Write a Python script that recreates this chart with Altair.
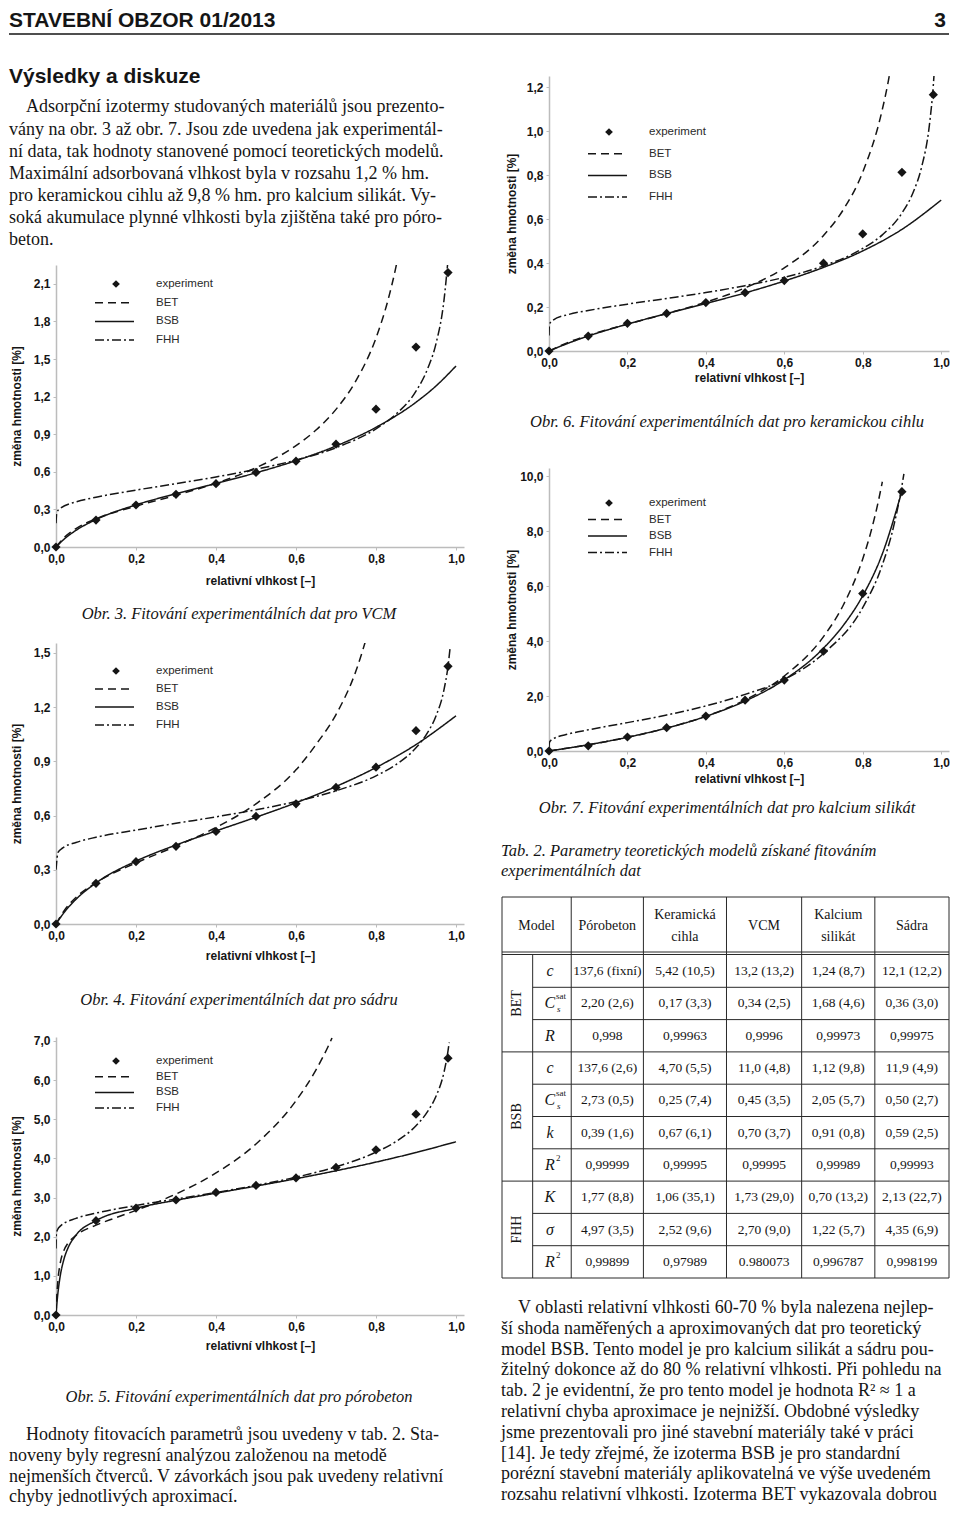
import altair as alt
import pandas as pd

# ---------------------------------------------------------------- data
# relative humidity of the measured points
RH_EXP = [0.0, 0.1, 0.2, 0.3, 0.4, 0.5, 0.6, 0.7, 0.8, 0.9, 0.98]
RH_EXP_KS = [0.0, 0.1, 0.2, 0.3, 0.4, 0.5, 0.6, 0.7, 0.8, 0.9]

# Obr. 3 - VCM
VCM_EXP = [0.0, 0.215, 0.335, 0.42, 0.505, 0.595, 0.685, 0.82, 1.10, 1.595, 2.19]
VCM_BET_X = [0.0, 0.02, 0.05, 0.1, 0.2, 0.3, 0.4, 0.5, 0.6, 0.65, 0.7, 0.75, 0.8, 0.83, 0.85, 0.86]
VCM_BET_Y = [0.0, 0.074, 0.147, 0.225, 0.326, 0.413, 0.509, 0.632, 0.809, 0.933, 1.098, 1.327, 1.668, 1.970, 2.237, 2.399]
VCM_BSB_X = [0.0, 0.02, 0.05, 0.1, 0.2, 0.3, 0.4, 0.5, 0.6, 0.7, 0.8, 0.9, 0.95, 1.0]
VCM_BSB_Y = [0.0, 0.062, 0.133, 0.219, 0.336, 0.425, 0.507, 0.592, 0.689, 0.806, 0.955, 1.155, 1.285, 1.444]
VCM_FHH_X = [0.0, 0.002, 0.01, 0.05, 0.1, 0.2, 0.3, 0.4, 0.5, 0.6, 0.7, 0.8, 0.85, 0.9, 0.93, 0.95, 0.97, 0.98]
VCM_FHH_Y = [0.19, 0.275, 0.307, 0.360, 0.397, 0.454, 0.505, 0.559, 0.620, 0.694, 0.792, 0.943, 1.060, 1.243, 1.430, 1.623, 1.970, 2.290]

# Obr. 4 - sadra
SAD_EXP = [0.0, 0.225, 0.345, 0.43, 0.512, 0.595, 0.665, 0.756, 0.868, 1.07, 1.426]
SAD_BET_X = [0.0, 0.02, 0.05, 0.1, 0.2, 0.3, 0.4, 0.5, 0.6, 0.65, 0.7, 0.75, 0.78]
SAD_BET_Y = [0.0, 0.073, 0.147, 0.229, 0.338, 0.431, 0.534, 0.665, 0.853, 0.993, 1.159, 1.401, 1.612]
SAD_BSB_X = [0.0, 0.02, 0.05, 0.1, 0.2, 0.3, 0.4, 0.5, 0.6, 0.7, 0.8, 0.9, 1.0]
SAD_BSB_Y = [0.0, 0.063, 0.137, 0.227, 0.348, 0.437, 0.515, 0.591, 0.671, 0.761, 0.866, 0.993, 1.152]
SAD_FHH_X = [0.0, 0.005, 0.017, 0.05, 0.1, 0.2, 0.3, 0.4, 0.5, 0.6, 0.7, 0.8, 0.85, 0.9, 0.93, 0.95, 0.97, 0.98, 0.985]
SAD_FHH_Y = [0.30, 0.396, 0.421, 0.451, 0.480, 0.520, 0.557, 0.593, 0.632, 0.678, 0.737, 0.820, 0.882, 0.975, 1.063, 1.151, 1.297, 1.426, 1.523]

# Obr. 5 - porobeton
POR_EXP = [0.0, 2.41, 2.73, 2.94, 3.13, 3.31, 3.50, 3.77, 4.22, 5.13, 6.56]
POR_BET_X = [0.0, 0.001, 0.005, 0.01, 0.02, 0.03, 0.05, 0.1, 0.15, 0.2, 0.3, 0.4, 0.5, 0.6, 0.65, 0.68, 0.69]
POR_BET_Y = [0.0, 0.267, 0.904, 1.292, 1.655, 1.836, 2.035, 2.294, 2.486, 2.672, 3.09, 3.627, 4.368, 5.473, 6.261, 6.852, 7.074]
POR_BSB_X = [0.0, 0.002, 0.005, 0.01, 0.02, 0.03, 0.05, 0.1, 0.2, 0.3, 0.4, 0.5, 0.6, 0.7, 0.8, 0.9, 1.0]
POR_BSB_Y = [0.0, 0.265, 0.58, 0.96, 1.43, 1.712, 2.039, 2.409, 2.727, 2.931, 3.112, 3.293, 3.481, 3.684, 3.905, 4.151, 4.425]
POR_FHH_X = [0.0, 0.001, 0.005, 0.01, 0.05, 0.1, 0.2, 0.3, 0.4, 0.5, 0.6, 0.7, 0.8, 0.85, 0.9, 0.93, 0.95, 0.97, 0.98, 0.983]
POR_FHH_Y = [1.70, 2.085, 2.201, 2.263, 2.467, 2.602, 2.796, 2.963, 3.13, 3.311, 3.52, 3.784, 4.159, 4.431, 4.832, 5.211, 5.586, 6.201, 6.743, 6.96]

# Obr. 6 - keramicka cihla
CIH_EXP = [0.0, 0.068, 0.126, 0.171, 0.22, 0.265, 0.32, 0.399, 0.532, 0.812, 1.165]
CIH_BET_X = [0.0, 0.05, 0.1, 0.2, 0.3, 0.4, 0.5, 0.6, 0.7, 0.75, 0.8, 0.85, 0.865, 0.87]
CIH_BET_Y = [0.0, 0.040, 0.071, 0.122, 0.170, 0.222, 0.287, 0.378, 0.525, 0.641, 0.813, 1.098, 1.224, 1.273]
CIH_BSB_X = [0.0, 0.05, 0.1, 0.2, 0.3, 0.4, 0.5, 0.6, 0.7, 0.8, 0.9, 1.0]
CIH_BSB_Y = [0.0, 0.036, 0.068, 0.122, 0.170, 0.216, 0.264, 0.318, 0.380, 0.455, 0.553, 0.686]
CIH_FHH_X = [0.0, 0.001, 0.005, 0.01, 0.05, 0.1, 0.2, 0.3, 0.4, 0.5, 0.6, 0.7, 0.8, 0.85, 0.9, 0.93, 0.95, 0.97, 0.98, 0.982]
CIH_FHH_Y = [0.07, 0.119, 0.133, 0.140, 0.166, 0.184, 0.213, 0.239, 0.266, 0.297, 0.335, 0.387, 0.466, 0.528, 0.627, 0.727, 0.835, 1.027, 1.208, 1.26]

# Obr. 7 - kalcium silikat
KS_EXP = [0.0, 0.19, 0.51, 0.85, 1.27, 1.85, 2.58, 3.63, 5.73, 9.44]
KS_BET_X = [0.0, 0.1, 0.2, 0.3, 0.4, 0.5, 0.6, 0.7, 0.75, 0.8, 0.82, 0.84, 0.85]
KS_BET_Y = [0.0, 0.226, 0.497, 0.833, 1.267, 1.86, 2.731, 4.162, 5.296, 6.99, 7.93, 9.10, 9.80]
KS_BSB_X = [0.0, 0.1, 0.2, 0.3, 0.4, 0.5, 0.6, 0.7, 0.75, 0.8, 0.85, 0.9]
KS_BSB_Y = [0.0, 0.227, 0.50, 0.835, 1.259, 1.818, 2.592, 3.743, 4.562, 5.651, 7.175, 9.46]
KS_FHH_X = [0.0, 0.001, 0.005, 0.01, 0.05, 0.1, 0.2, 0.3, 0.4, 0.5, 0.6, 0.7, 0.8, 0.85, 0.88, 0.9, 0.905]
KS_FHH_Y = [0.10, 0.313, 0.389, 0.436, 0.621, 0.770, 1.033, 1.31, 1.639, 2.06, 2.6, 3.551, 5.219, 6.774, 8.246, 9.656, 10.09]

X_TICKS = [0.0, 0.2, 0.4, 0.6, 0.8, 1.0]
Y_TICKS_VCM = [0.0, 0.3, 0.6, 0.9, 1.2, 1.5, 1.8, 2.1]
Y_TICKS_SAD = [0.0, 0.3, 0.6, 0.9, 1.2, 1.5]
Y_TICKS_POR = [0.0, 1.0, 2.0, 3.0, 4.0, 5.0, 6.0, 7.0]
Y_TICKS_CIH = [0.0, 0.2, 0.4, 0.6, 0.8, 1.0, 1.2]
Y_TICKS_KS = [0.0, 2.0, 4.0, 6.0, 8.0, 10.0]

MODELS = ["BET", "BSB", "FHH"]
LEGEND_NAMES = ["experiment", "BET", "BSB", "FHH"]
X_TITLE = "relativní vlhkost [–]"
Y_TITLE = "změna hmotnosti [%]"

# table 2
TAB_HEAD = ["Pórobeton", "Keramická\ncihla", "VCM", "Kalcium\nsilikát", "Sádra"]
GROUPS = ["BET", "BSB", "FHH"]
GROUP_ROWS = [3, 4, 3]
PARAM_MAIN = ["c", "C", "R", "c", "C", "k", "R", "K", "σ", "R"]
PARAM_SUP = ["", "sat", "", "", "sat", "", "2", "", "", "2"]
PARAM_SUB = ["", "s", "", "", "s", "", "", "", "", ""]
TAB_POROBETON = ["137,6 (fixní)", "2,20 (2,6)", "0,998", "137,6 (2,6)", "2,73 (0,5)", "0,39 (1,6)", "0,99999", "1,77 (8,8)", "4,97 (3,5)", "0,99899"]
TAB_CIHLA = ["5,42 (10,5)", "0,17 (3,3)", "0,99963", "4,70 (5,5)", "0,25 (7,4)", "0,67 (6,1)", "0,99995", "1,06 (35,1)", "2,52 (9,6)", "0,97989"]
TAB_VCM = ["13,2 (13,2)", "0,34 (2,5)", "0,9996", "11,0 (4,8)", "0,45 (3,5)", "0,70 (3,7)", "0,99995", "1,73 (29,0)", "2,70 (9,0)", "0.980073"]
TAB_KS = ["1,24 (8,7)", "1,68 (4,6)", "0,99973", "1,12 (9,8)", "2,05 (5,7)", "0,91 (0,8)", "0,99989", "0,70 (13,2)", "1,22 (5,7)", "0,996787"]
TAB_SADRA = ["12,1 (12,2)", "0,36 (3,0)", "0,99975", "11,9 (4,9)", "0,50 (2,7)", "0,59 (2,5)", "0,99993", "2,13 (22,7)", "4,35 (6,9)", "0,998199"]

# texts
HEADER_LEFT = "STAVEBNÍ OBZOR 01/2013"
HEADER_RIGHT = "3"
SECTION = "Výsledky a diskuze"
PARA_TOP = [
    "Adsorpční izotermy studovaných materiálů jsou prezento-",
    "vány na obr. 3 až obr. 7. Jsou zde uvedena jak experimentál-",
    "ní data, tak hodnoty stanovené pomocí teoretických modelů.",
    "Maximální adsorbovaná vlhkost byla v rozsahu 1,2 % hm.",
    "pro keramickou cihlu až 9,8 % hm. pro kalcium silikát. Vy-",
    "soká akumulace plynné vlhkosti byla zjištěna také pro póro-",
    "beton.",
]
PARA_LEFT_BOTTOM = [
    "Hodnoty fitovacích parametrů jsou uvedeny v tab. 2. Sta-",
    "noveny byly regresní analýzou založenou na metodě",
    "nejmenších čtverců. V závorkách jsou pak uvedeny relativní",
    "chyby jednotlivých aproximací.",
]
PARA_RIGHT_BOTTOM = [
    "V oblasti relativní vlhkosti 60-70 % byla nalezena nejlep-",
    "ší shoda naměřených a aproximovaných dat pro teoretický",
    "model BSB. Tento model je pro kalcium silikát a sádru pou-",
    "žitelný dokonce až do 80 % relativní vlhkosti. Při pohledu na",
    "tab. 2 je evidentní, že pro tento model je hodnota R² ≈ 1 a",
    "relativní chyba aproximace je nejnižší. Obdobné výsledky",
    "jsme prezentovali pro jiné stavební materiály také v práci",
    "[14]. Je tedy zřejmé, že izoterma BSB je pro standardní",
    "porézní stavební materiály aplikovatelná ve výše uvedeném",
    "rozsahu relativní vlhkosti. Izoterma BET vykazovala dobrou",
]
CAP3 = "Obr. 3. Fitování experimentálních dat pro VCM"
CAP4 = "Obr. 4. Fitování experimentálních dat pro sádru"
CAP5 = "Obr. 5. Fitování experimentálních dat pro pórobeton"
CAP6 = "Obr. 6. Fitování experimentálních dat pro keramickou cihlu"
CAP7 = "Obr. 7. Fitování experimentálních dat pro kalcium silikát"
CAPT = ["Tab. 2. Parametry teoretických modelů získané fitováním", "experimentálních dat"]

# ---------------------------------------------------------------- style
SANS = "Liberation Sans"
SERIF = "Liberation Serif"
INK = "#151515"
DASHES = [[8, 5], [1, 0], [9, 3, 2, 3]]
LABEL_EXPR = "replace(format(datum.value, '.1f'), '.', ',')"
BODY_SIZE = 18
CAP_SIZE = 16.5

ONE = pd.DataFrame({"k": [0]})


def txt(text, x, y, **kw):
    opts = dict(align="left", baseline="alphabetic", color=INK, font=SERIF, fontSize=BODY_SIZE)
    opts.update(kw)
    return alt.Chart(pd.DataFrame({"t": [text]})).mark_text(**opts).encode(
        text="t:N", x=alt.value(x), y=alt.value(y))


def para(lines, x, y0, step, **kw):
    opts = dict(align="left", baseline="alphabetic", color=INK, font=SERIF, fontSize=BODY_SIZE)
    opts.update(kw)
    n = len(lines)
    df = pd.DataFrame({"t": lines, "i": list(range(n))})
    return alt.Chart(df).mark_text(**opts).encode(
        text="t:N", x=alt.value(x),
        y=alt.Y("i:Q", axis=None, scale=alt.Scale(domain=[0, n - 1], range=[y0, y0 + step * (n - 1)], nice=False, zero=False)))


def caption(text, x, y, align="center"):
    return txt(text, x, y, fontStyle="italic", fontSize=CAP_SIZE, align=align)


def isotherm(exp_x, exp_y, curves, ymax, yticks, width, height, leg_top, leg_step, xt_off, yt_x):
    xs = alt.Scale(domain=[0, 1.02], nice=False, zero=False)
    ys = alt.Scale(domain=[0, ymax], nice=False, zero=False)
    xax = alt.Axis(values=X_TICKS, labelExpr=LABEL_EXPR, labelFlush=False, title=X_TITLE,
                   titleY=xt_off, titleBaseline="middle")
    yax = alt.Axis(values=yticks, labelExpr=LABEL_EXPR, labelFlush=False, title=Y_TITLE,
                   titleX=yt_x, titleY=height / 2, titleBaseline="middle", titleAngle=270)
    rows = []
    for name, (cx, cy) in zip(MODELS, curves):
        rows += [{"model": name, "x": a, "y": b} for a, b in zip(cx, cy)]
    cdf = pd.DataFrame(rows)
    lines = alt.Chart(cdf).mark_line(clip=True, color=INK, strokeWidth=1.5, interpolate="monotone").encode(
        x=alt.X("x:Q", scale=xs, axis=xax),
        y=alt.Y("y:Q", scale=ys, axis=yax),
        strokeDash=alt.StrokeDash("model:N", scale=alt.Scale(domain=MODELS, range=DASHES), legend=None),
    )
    pts = alt.Chart(pd.DataFrame({"x": exp_x, "y": exp_y})).mark_point(
        shape="diamond", filled=True, size=85, color=INK, opacity=1).encode(
        x=alt.X("x:Q", scale=xs, axis=xax), y=alt.Y("y:Q", scale=ys, axis=yax))
    leg = [alt.Chart(ONE).mark_point(shape="diamond", filled=True, size=60, color=INK, opacity=1).encode(
        x=alt.value(60), y=alt.value(leg_top))]
    for i, name in enumerate(LEGEND_NAMES):
        yy = leg_top + i * leg_step
        leg.append(alt.Chart(pd.DataFrame({"t": [name]})).mark_text(
            align="left", baseline="middle", font=SANS, fontSize=11.5, color="#2a2a2a").encode(
            text="t:N", x=alt.value(100), y=alt.value(yy)))
        if i > 0:
            leg.append(alt.Chart(ONE).mark_rule(color=INK, strokeWidth=1.5, strokeDash=DASHES[i - 1]).encode(
                x=alt.value(39), x2=alt.value(78), y=alt.value(yy)))
    return alt.layer(lines, pts, *leg).properties(width=width, height=height)


# ---------------------------------------------------------------- header
header = alt.layer(
    txt(HEADER_LEFT, -47, 19, font=SANS, fontSize=21, fontWeight="bold"),
    txt(HEADER_RIGHT, 890, 19, font=SANS, fontSize=21, fontWeight="bold", align="right"),
    alt.Chart(ONE).mark_rule(color=INK, strokeWidth=1.5).encode(x=alt.value(-47), x2=alt.value(893), y=alt.value(26)),
).properties(width=880, height=30)

# ---------------------------------------------------------------- left column
LW = 410
LC = 183  # caption centre
top_left = alt.layer(
    txt(SECTION, -47, 23, font=SANS, fontSize=21, fontWeight="bold"),
    txt(PARA_TOP[0], -30, 52),
    para(PARA_TOP[1:], -47, 74.5, 22.1),
).properties(width=LW, height=205)

ch3 = isotherm(RH_EXP, VCM_EXP, [(VCM_BET_X, VCM_BET_Y), (VCM_BSB_X, VCM_BSB_Y), (VCM_FHH_X, VCM_FHH_Y)],
               2.25, Y_TICKS_VCM, 408, 282, 19, 18.7, 33, -40)
cap3 = alt.layer(caption(CAP3, LC, 72)).properties(width=LW, height=96)
ch4 = isotherm(RH_EXP, SAD_EXP, [(SAD_BET_X, SAD_BET_Y), (SAD_BSB_X, SAD_BSB_Y), (SAD_FHH_X, SAD_FHH_Y)],
               1.555, Y_TICKS_SAD, 408, 281, 28, 18, 31, -40)
cap4 = alt.layer(caption(CAP4, LC, 81)).properties(width=LW, height=113)
ch5 = isotherm(RH_EXP, POR_EXP, [(POR_BET_X, POR_BET_Y), (POR_BSB_X, POR_BSB_Y), (POR_FHH_X, POR_FHH_Y)],
               7.1, Y_TICKS_POR, 408, 278, 24, 15.7, 30, -40)
bottom_left = alt.layer(
    caption(CAP5, LC, 87),
    txt(PARA_LEFT_BOTTOM[0], -30, 125),
    para(PARA_LEFT_BOTTOM[1:], -47, 146, 20.5),
).properties(width=LW, height=188)

left = alt.vconcat(top_left, ch3, cap3, ch4, cap4, ch5, bottom_left, spacing=0, bounds="flush")

# ---------------------------------------------------------------- right column
RW = 400
RC = 178  # caption centre
spacer = alt.Chart(pd.DataFrame({"t": [""]})).mark_text().encode(text="t:N").properties(width=RW, height=16)
ch6 = isotherm(RH_EXP, CIH_EXP, [(CIH_BET_X, CIH_BET_Y), (CIH_BSB_X, CIH_BSB_Y), (CIH_FHH_X, CIH_FHH_Y)],
               1.25, Y_TICKS_CIH, RW, 275, 56, 21.7, 26, -38)
cap6 = alt.layer(caption(CAP6, RC, 76)).properties(width=RW, height=117)
ch7 = isotherm(RH_EXP_KS, KS_EXP, [(KS_BET_X, KS_BET_Y), (KS_BSB_X, KS_BSB_Y), (KS_FHH_X, KS_FHH_Y)],
               10.3, Y_TICKS_KS, RW, 283, 35, 16.5, 27, -38)
cap_tab = alt.layer(
    caption(CAP7, RC, 62),
    caption(CAPT[0], -48, 105, align="left"),
    caption(CAPT[1], -48, 125, align="left"),
).properties(width=RW, height=146)

# table geometry (layout units)
COL_EDGES = [0, 31, 70, 143, 227, 303, 377, 452]
HEAD_H = 55
ROW0 = 58
ROW_H = 32.3
NROWS = 10
TAB_H = ROW0 + ROW_H * NROWS
TX = alt.Scale(domain=[0, COL_EDGES[-1]], range=[-47, 400], nice=False, zero=False)
TY = alt.Scale(domain=[0, TAB_H], range=[0, TAB_H], nice=False, zero=False)


def tx(f):
    return alt.X(f, type="quantitative", scale=TX, axis=None)


def ty(f):
    return alt.Y(f, type="quantitative", scale=TY, axis=None)


segs = []
full = COL_EDGES[-1]
segs.append((0, full, 0, 0))
segs.append((0, full, HEAD_H, HEAD_H))
segs.append((0, full, ROW0 - 0.5, ROW0 - 0.5))
group_ends = []
acc = 0
for g in GROUP_ROWS:
    acc += g
    group_ends.append(acc)
for r in range(1, NROWS + 1):
    yv = ROW0 + r * ROW_H
    x0 = 0 if r in group_ends else COL_EDGES[1]
    segs.append((x0, full, yv, yv))
for i, e in enumerate(COL_EDGES):
    y0 = ROW0 if i == 1 else 0
    segs.append((e, e, y0, TAB_H))
seg_df = pd.DataFrame(segs, columns=["x", "x2", "y", "y2"])
grid = alt.Chart(seg_df).mark_rule(color="#2a2a2a", strokeWidth=1).encode(
    x=tx("x"), x2=alt.X2("x2"), y=ty("y"), y2=alt.Y2("y2"))

centers = [(COL_EDGES[i] + COL_EDGES[i + 1]) / 2 for i in range(len(COL_EDGES) - 1)]
HEAD_LH = 22
head_texts = ["Model"] + TAB_HEAD
head_df = pd.DataFrame({"t": head_texts,
                        "x": [COL_EDGES[2] / 2] + centers[2:],
                        "y": [HEAD_H / 2 + 1 - (t.count("\n")) * HEAD_LH / 2 for t in head_texts]})
head = alt.Chart(head_df).mark_text(font=SERIF, fontSize=14, color=INK, lineBreak="\n", lineHeight=HEAD_LH,
                                    baseline="middle").encode(text="t:N", x=tx("x"), y=ty("y"))

cols = [TAB_POROBETON, TAB_CIHLA, TAB_VCM, TAB_KS, TAB_SADRA]
vals = []
for c, col in enumerate(cols):
    for r, v in enumerate(col):
        vals.append({"t": v, "x": centers[c + 2], "y": ROW0 + (r + 0.5) * ROW_H})
val_layer = alt.Chart(pd.DataFrame(vals)).mark_text(font=SERIF, fontSize=13.5, color=INK, baseline="middle").encode(
    text="t:N", x=tx("x"), y=ty("y"))

prm = pd.DataFrame({"t": PARAM_MAIN, "sup": PARAM_SUP, "sub": PARAM_SUB,
                    "x": [centers[1]] * NROWS,
                    "y": [ROW0 + (r + 0.5) * ROW_H for r in range(NROWS)]})
prm_main = alt.Chart(prm).mark_text(font=SERIF, fontSize=16, fontStyle="italic", color=INK, baseline="middle",
                                     dx=-2).encode(text="t:N", x=tx("x"), y=ty("y"))
prm_sup = alt.Chart(prm).mark_text(font=SERIF, fontSize=9, color=INK, baseline="middle", align="left",
                                    dx=4, dy=-7).encode(text="sup:N", x=tx("x"), y=ty("y"))
prm_sub = alt.Chart(prm).mark_text(font=SERIF, fontSize=9, fontStyle="italic", color=INK, baseline="middle",
                                    align="left", dx=5, dy=6).encode(text="sub:N", x=tx("x"), y=ty("y"))

gy = []
acc = 0
for g in GROUP_ROWS:
    gy.append(ROW0 + (acc + g / 2) * ROW_H)
    acc += g
grp = alt.Chart(pd.DataFrame({"t": GROUPS, "x": [centers[0]] * 3, "y": gy})).mark_text(
    font=SERIF, fontSize=14, color=INK, angle=270, baseline="middle").encode(text="t:N", x=tx("x"), y=ty("y"))

table = alt.layer(grid, head, val_layer, prm_main, prm_sup, prm_sub, grp).properties(width=RW, height=384)

bottom_right = alt.layer(
    txt(PARA_RIGHT_BOTTOM[0], -31, 32),
    para(PARA_RIGHT_BOTTOM[1:], -48, 52.8, 20.8),
).properties(width=RW, height=224)

right = alt.vconcat(spacer, ch6, cap6, ch7, cap_tab, table, bottom_right, spacing=0, bounds="flush")

body = alt.hconcat(left, right, spacing=35)

chart = alt.vconcat(header, body, spacing=22).properties(padding=0).configure_view(
    stroke=None
).configure_axis(
    labelFont=SANS, labelFontWeight="bold", labelFontSize=12, labelColor=INK,
    titleFont=SANS, titleFontWeight="bold", titleFontSize=12, titleColor=INK,
    domainColor="#bcbcbc", domainWidth=1.5, tickColor="#bcbcbc", tickSize=3,
    labelPadding=3, grid=False,
)

chart.save("out.html", embed_options={"renderer": "svg", "actions": False})
